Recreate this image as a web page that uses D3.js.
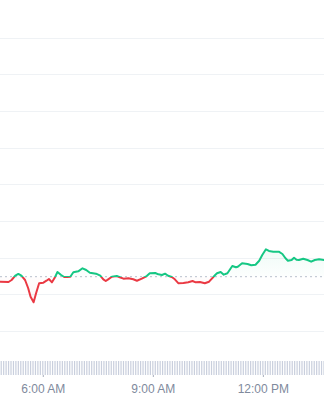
<!DOCTYPE html>
<html>
<head>
<meta charset="utf-8">
<script src="https://cdn.jsdelivr.net/npm/d3@7"></script>
<style>
  html, body { margin: 0; padding: 0; background: #fff; }
  svg { display: block; }
</style>
</head>
<body>
<svg id="chart" width="324" height="400"></svg>
<script>
// Price samples (time of day, price)
const times = ["04:50","05:04","05:09","05:15","05:20","05:25","05:31","05:36","05:40","05:45",
  "05:49","05:54","06:01","06:06","06:10","06:15","06:19","06:24","06:30","06:35",
  "06:40","06:45","06:50","06:58","07:05","07:11","07:17","07:27","07:34","07:39",
  "07:43","07:47","07:53","08:01","08:06","08:12","08:20","08:28","08:34","08:42",
  "08:50","08:55","09:04","09:09","09:15","09:20","09:25","09:31","09:36","09:42",
  "09:50","09:58","10:05","10:10","10:17","10:25","10:32","10:37","10:42","10:45",
  "10:51","10:56","11:02","11:10","11:16","11:19","11:26","11:35","11:41","11:48",
  "11:54","11:59","12:05","12:10","12:17","12:26","12:32","12:37","12:41","12:47",
  "12:51","12:55","12:59","13:06","13:13","13:19","13:25","13:32","13:40"];
const prices = [61.344,61.336,61.390,61.507,61.554,61.507,61.390,61.172,60.935,60.782,
  61.028,61.300,61.317,61.371,61.417,61.327,61.436,61.608,61.526,61.472,
  61.472,61.480,61.600,61.627,61.709,61.663,61.589,61.562,61.507,61.409,
  61.363,61.409,61.480,61.499,61.464,61.426,61.436,61.409,61.371,61.426,
  61.499,61.573,61.581,61.545,61.526,61.562,61.507,61.472,61.409,61.300,
  61.308,61.327,61.363,61.327,61.336,61.300,61.344,61.436,61.526,61.573,
  61.608,61.535,61.573,61.772,61.736,61.753,61.845,61.826,61.791,61.807,
  61.916,62.072,62.227,62.181,62.162,62.162,62.099,61.982,61.916,61.935,
  61.998,61.943,61.935,61.971,61.935,61.889,61.935,61.954,61.935];
const openPrice = 61.48;

// Horizontal grid (price ticks, labels off-screen)
const gridTicks = [60, 61, 62, 63, 64, 65, 66, 67, 68];

// Visible time window and labelled ticks
const timeWindow = ["04:50", "13:40"];
const xTickLabels = ["06:00", "09:00", "12:00"];

// Volume bars every 4 minutes (all run past the top of the visible band)
const volumeStart = "04:52";
const volumes = [3.4,2.9,3.1,4.2,3.6,2.7,3.3,3.8,5.1,6.2,4.4,3.5,3.0,2.8,3.2,3.6,3.9,3.1,2.9,2.6,
  3.0,3.4,3.7,3.2,2.8,3.5,4.1,3.3,2.9,2.7,3.1,3.0,2.8,3.2,3.6,3.4,2.9,2.6,2.8,3.0,
  3.3,3.1,2.7,2.9,3.4,3.2,3.0,2.8,3.1,3.5,3.3,2.9,2.7,3.0,3.2,3.6,3.4,3.1,2.9,2.8,
  3.0,3.3,3.5,3.2,2.9,3.1,3.4,3.7,4.0,3.6,3.2,3.0,2.9,3.3,3.5,3.8,4.3,4.6,3.9,3.4,
  3.2,3.6,4.1,3.8,3.5,3.3,3.7,4.0,4.4,4.9,5.6,4.8,4.1,3.7,3.5,3.9,4.2,3.8,3.4,3.3,
  3.6,3.2,3.0,3.4,3.7,3.5,3.1,2.9,3.2,3.4,3.3,3.0,2.8,3.1,3.5,3.2,2.9,3.0,3.3,3.1,
  2.9,3.2,3.4,3.0,2.8,3.1,3.3,3.0,2.9,3.2,3.1,2.8,3.0];
const volumeCap = 2.0;

const W = 324, H = 400;
const parseT = d3.timeParse("%H:%M");
const green = "#16c784", red = "#ea3943";

const data = times.map((t, i) => ({ t: parseT(t), p: prices[i] }));

const svg = d3.select("#chart");

const x = d3.scaleTime()
  .domain(timeWindow.map(parseT))
  .range([0, W]);

const y = d3.scaleLinear()
  .domain([gridTicks[0], gridTicks[gridTicks.length - 1]])
  .range([331, 37.5]);

const vy = d3.scaleLinear()
  .domain([0, volumeCap])
  .range([375, 361])
  .clamp(true);

const baseY = y(openPrice);

const defs = svg.append("defs");

// Stroke colour switches at the open price
const strokeGrad = defs.append("linearGradient")
  .attr("id", "strokeGrad")
  .attr("gradientUnits", "userSpaceOnUse")
  .attr("x1", 0).attr("x2", 0)
  .attr("y1", 0).attr("y2", H);
strokeGrad.append("stop").attr("offset", baseY / H).attr("stop-color", green);
strokeGrad.append("stop").attr("offset", baseY / H).attr("stop-color", red);

const upFill = defs.append("linearGradient")
  .attr("id", "upFill")
  .attr("gradientUnits", "userSpaceOnUse")
  .attr("x1", 0).attr("x2", 0)
  .attr("y1", y(62.25)).attr("y2", baseY);
upFill.append("stop").attr("offset", 0).attr("stop-color", green).attr("stop-opacity", 0.07);
upFill.append("stop").attr("offset", 1).attr("stop-color", green).attr("stop-opacity", 0.01);

const downFill = defs.append("linearGradient")
  .attr("id", "downFill")
  .attr("gradientUnits", "userSpaceOnUse")
  .attr("x1", 0).attr("x2", 0)
  .attr("y1", baseY).attr("y2", y(60.75));
downFill.append("stop").attr("offset", 0).attr("stop-color", red).attr("stop-opacity", 0.01);
downFill.append("stop").attr("offset", 1).attr("stop-color", red).attr("stop-opacity", 0.05);

defs.append("clipPath").attr("id", "clipUp")
  .append("rect").attr("x", 0).attr("y", 0).attr("width", W).attr("height", baseY);
defs.append("clipPath").attr("id", "clipDown")
  .append("rect").attr("x", 0).attr("y", baseY).attr("width", W).attr("height", H - baseY);

// Gridlines
svg.append("g")
  .selectAll("line")
  .data(gridTicks)
  .join("line")
  .attr("x1", 0).attr("x2", W)
  .attr("y1", d => Math.round(y(d)) + 0.5)
  .attr("y2", d => Math.round(y(d)) + 0.5)
  .attr("stroke", "#eff2f5")
  .attr("stroke-width", 1);

// Area between price and open
const area = d3.area()
  .x(d => x(d.t))
  .y0(baseY)
  .y1(d => y(d.p));

svg.append("path")
  .datum(data)
  .attr("d", area)
  .attr("fill", "url(#upFill)")
  .attr("clip-path", "url(#clipUp)");

svg.append("path")
  .datum(data)
  .attr("d", area)
  .attr("fill", "url(#downFill)")
  .attr("clip-path", "url(#clipDown)");

// Dotted open-price line
svg.append("line")
  .attr("x1", 0).attr("x2", W)
  .attr("y1", baseY).attr("y2", baseY)
  .attr("stroke", "#b8bfcc")
  .attr("stroke-width", 1)
  .attr("stroke-dasharray", "2 3");

// Price line
const line = d3.line()
  .x(d => x(d.t))
  .y(d => y(d.p));

svg.append("path")
  .datum(data)
  .attr("d", line)
  .attr("fill", "none")
  .attr("stroke", "url(#strokeGrad)")
  .attr("stroke-width", 2)
  .attr("stroke-linejoin", "round")
  .attr("stroke-linecap", "round");

// Volume bars
const v0 = parseT(volumeStart);
const volData = volumes.map((v, i) => ({ t: d3.timeMinute.offset(v0, i * 4), v }));

svg.append("g")
  .selectAll("rect")
  .data(volData)
  .join("rect")
  .attr("x", d => x(d.t) - 0.6)
  .attr("width", 1.2)
  .attr("y", d => vy(d.v))
  .attr("height", d => 375 - vy(d.v))
  .attr("fill", "#c9cfdd");

// Time axis
const xAxis = d3.axisBottom(x)
  .tickValues(xTickLabels.map(parseT))
  .tickFormat(d3.timeFormat("%-I:%M %p"))
  .tickSize(2)
  .tickPadding(7.5);

const ax = svg.append("g")
  .attr("transform", "translate(0,375)")
  .call(xAxis);

ax.select(".domain").remove();
ax.selectAll(".tick line").attr("stroke", "#a6adbb");
ax.selectAll(".tick text")
  .attr("fill", "#808a9d")
  .attr("font-family", "'Liberation Sans', Arial, sans-serif")
  .attr("font-size", 12);
</script>
</body>
</html>
